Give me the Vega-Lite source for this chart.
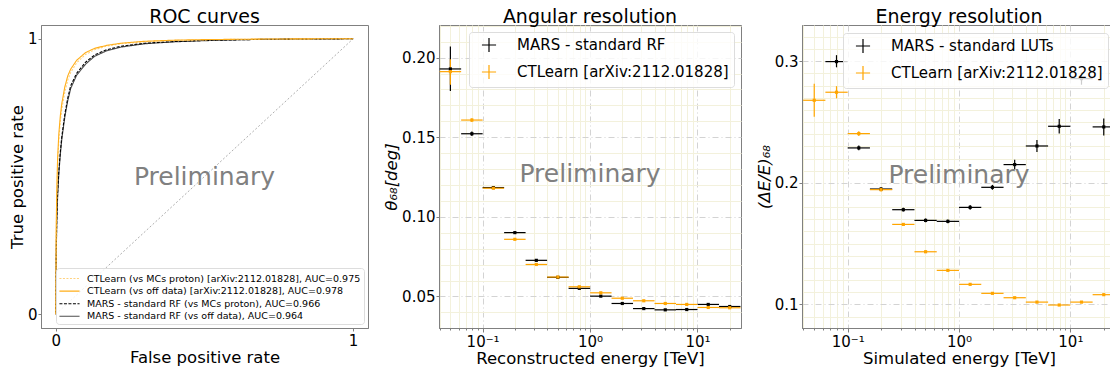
{
  "$schema": "https://vega.github.io/schema/vega-lite/v6.json",
  "padding": {"left": 8, "top": 7, "right": 0, "bottom": 0},
  "background": "white",
  "config": {
    "font": "DejaVu Sans",
    "view": {"stroke": "#808080", "strokeWidth": 1},
    "axis": {"domainColor": "#808080", "tickColor": "#808080", "labelFontSize": 15, "titleFontSize": 16.5, "titleFontWeight": "normal", "labelColor": "#000000", "titleColor": "#000000", "tickSize": 3, "labelPadding": 2, "titlePadding": 1, "grid": false, "labelFont": "DejaVu Sans", "titleFont": "DejaVu Sans"},
    "axisY": {"labelPadding": 1},
    "title": {"fontSize": 19, "fontWeight": "normal", "font": "DejaVu Sans", "color": "#000000", "offset": -1.5},
    "legend": {"labelFont": "DejaVu Sans", "labelColor": "#000000"}
  },
  "bounds": "flush",
  "spacing": 71,
  "resolve": {"scale": {"color": "independent", "strokeDash": "independent", "x": "independent", "y": "independent"}, "legend": {"color": "independent", "strokeDash": "independent"}},
  "hconcat": [
    {
      "width": 327,
      "height": 303,
      "title": "ROC curves",
      "layer": [
        {
          "data": {"values": [{"fpr": 0, "tpr": 0}, {"fpr": 1, "tpr": 1}]},
          "mark": {"type": "line", "color": "#999999", "strokeWidth": 0.8, "strokeDash": [2, 2]},
          "encoding": {
            "x": {"field": "fpr", "type": "quantitative", "scale": {"domain": [-0.05, 1.05], "nice": false, "zero": false}, "axis": {"values": [0, 1], "format": "d", "title": "False positive rate"}},
            "y": {"field": "tpr", "type": "quantitative", "scale": {"domain": [-0.05, 1.05], "nice": false, "zero": false}, "axis": {"values": [0, 1], "format": "d", "title": "True positive rate", "titlePadding": 2}}
          }
        },
        {
          "data": {"values": [
            {"c": "MARS - standard RF (vs off data), AUC=0.964", "fpr": 0, "tpr": 0},
            {"c": "MARS - standard RF (vs off data), AUC=0.964", "fpr": 0.001, "tpr": 0.2},
            {"c": "MARS - standard RF (vs off data), AUC=0.964", "fpr": 0.003, "tpr": 0.33},
            {"c": "MARS - standard RF (vs off data), AUC=0.964", "fpr": 0.006, "tpr": 0.43},
            {"c": "MARS - standard RF (vs off data), AUC=0.964", "fpr": 0.01, "tpr": 0.51},
            {"c": "MARS - standard RF (vs off data), AUC=0.964", "fpr": 0.015, "tpr": 0.58},
            {"c": "MARS - standard RF (vs off data), AUC=0.964", "fpr": 0.02, "tpr": 0.635},
            {"c": "MARS - standard RF (vs off data), AUC=0.964", "fpr": 0.03, "tpr": 0.715},
            {"c": "MARS - standard RF (vs off data), AUC=0.964", "fpr": 0.04, "tpr": 0.775},
            {"c": "MARS - standard RF (vs off data), AUC=0.964", "fpr": 0.05, "tpr": 0.82},
            {"c": "MARS - standard RF (vs off data), AUC=0.964", "fpr": 0.07, "tpr": 0.868},
            {"c": "MARS - standard RF (vs off data), AUC=0.964", "fpr": 0.1, "tpr": 0.908},
            {"c": "MARS - standard RF (vs off data), AUC=0.964", "fpr": 0.13, "tpr": 0.936},
            {"c": "MARS - standard RF (vs off data), AUC=0.964", "fpr": 0.17, "tpr": 0.956},
            {"c": "MARS - standard RF (vs off data), AUC=0.964", "fpr": 0.22, "tpr": 0.97},
            {"c": "MARS - standard RF (vs off data), AUC=0.964", "fpr": 0.3, "tpr": 0.982},
            {"c": "MARS - standard RF (vs off data), AUC=0.964", "fpr": 0.4, "tpr": 0.989},
            {"c": "MARS - standard RF (vs off data), AUC=0.964", "fpr": 0.5, "tpr": 0.993},
            {"c": "MARS - standard RF (vs off data), AUC=0.964", "fpr": 0.6, "tpr": 0.996},
            {"c": "MARS - standard RF (vs off data), AUC=0.964", "fpr": 0.7, "tpr": 0.998},
            {"c": "MARS - standard RF (vs off data), AUC=0.964", "fpr": 0.8, "tpr": 0.999},
            {"c": "MARS - standard RF (vs off data), AUC=0.964", "fpr": 0.9, "tpr": 0.9995},
            {"c": "MARS - standard RF (vs off data), AUC=0.964", "fpr": 1, "tpr": 1},
            {"c": "MARS - standard RF (vs MCs proton), AUC=0.966", "fpr": 0, "tpr": 0},
            {"c": "MARS - standard RF (vs MCs proton), AUC=0.966", "fpr": 0.001, "tpr": 0.21},
            {"c": "MARS - standard RF (vs MCs proton), AUC=0.966", "fpr": 0.003, "tpr": 0.34},
            {"c": "MARS - standard RF (vs MCs proton), AUC=0.966", "fpr": 0.006, "tpr": 0.44},
            {"c": "MARS - standard RF (vs MCs proton), AUC=0.966", "fpr": 0.01, "tpr": 0.52},
            {"c": "MARS - standard RF (vs MCs proton), AUC=0.966", "fpr": 0.015, "tpr": 0.59},
            {"c": "MARS - standard RF (vs MCs proton), AUC=0.966", "fpr": 0.02, "tpr": 0.645},
            {"c": "MARS - standard RF (vs MCs proton), AUC=0.966", "fpr": 0.03, "tpr": 0.725},
            {"c": "MARS - standard RF (vs MCs proton), AUC=0.966", "fpr": 0.04, "tpr": 0.785},
            {"c": "MARS - standard RF (vs MCs proton), AUC=0.966", "fpr": 0.05, "tpr": 0.83},
            {"c": "MARS - standard RF (vs MCs proton), AUC=0.966", "fpr": 0.07, "tpr": 0.875},
            {"c": "MARS - standard RF (vs MCs proton), AUC=0.966", "fpr": 0.1, "tpr": 0.915},
            {"c": "MARS - standard RF (vs MCs proton), AUC=0.966", "fpr": 0.13, "tpr": 0.941},
            {"c": "MARS - standard RF (vs MCs proton), AUC=0.966", "fpr": 0.17, "tpr": 0.96},
            {"c": "MARS - standard RF (vs MCs proton), AUC=0.966", "fpr": 0.22, "tpr": 0.973},
            {"c": "MARS - standard RF (vs MCs proton), AUC=0.966", "fpr": 0.3, "tpr": 0.984},
            {"c": "MARS - standard RF (vs MCs proton), AUC=0.966", "fpr": 0.4, "tpr": 0.99},
            {"c": "MARS - standard RF (vs MCs proton), AUC=0.966", "fpr": 0.5, "tpr": 0.994},
            {"c": "MARS - standard RF (vs MCs proton), AUC=0.966", "fpr": 0.6, "tpr": 0.996},
            {"c": "MARS - standard RF (vs MCs proton), AUC=0.966", "fpr": 0.7, "tpr": 0.998},
            {"c": "MARS - standard RF (vs MCs proton), AUC=0.966", "fpr": 0.8, "tpr": 0.999},
            {"c": "MARS - standard RF (vs MCs proton), AUC=0.966", "fpr": 0.9, "tpr": 0.9995},
            {"c": "MARS - standard RF (vs MCs proton), AUC=0.966", "fpr": 1, "tpr": 1},
            {"c": "CTLearn (vs MCs proton) [arXiv:2112.01828], AUC=0.975", "fpr": 0, "tpr": 0},
            {"c": "CTLearn (vs MCs proton) [arXiv:2112.01828], AUC=0.975", "fpr": 0.001, "tpr": 0.28},
            {"c": "CTLearn (vs MCs proton) [arXiv:2112.01828], AUC=0.975", "fpr": 0.003, "tpr": 0.42},
            {"c": "CTLearn (vs MCs proton) [arXiv:2112.01828], AUC=0.975", "fpr": 0.006, "tpr": 0.54},
            {"c": "CTLearn (vs MCs proton) [arXiv:2112.01828], AUC=0.975", "fpr": 0.01, "tpr": 0.63},
            {"c": "CTLearn (vs MCs proton) [arXiv:2112.01828], AUC=0.975", "fpr": 0.015, "tpr": 0.7},
            {"c": "CTLearn (vs MCs proton) [arXiv:2112.01828], AUC=0.975", "fpr": 0.02, "tpr": 0.745},
            {"c": "CTLearn (vs MCs proton) [arXiv:2112.01828], AUC=0.975", "fpr": 0.03, "tpr": 0.805},
            {"c": "CTLearn (vs MCs proton) [arXiv:2112.01828], AUC=0.975", "fpr": 0.04, "tpr": 0.85},
            {"c": "CTLearn (vs MCs proton) [arXiv:2112.01828], AUC=0.975", "fpr": 0.05, "tpr": 0.878},
            {"c": "CTLearn (vs MCs proton) [arXiv:2112.01828], AUC=0.975", "fpr": 0.07, "tpr": 0.913},
            {"c": "CTLearn (vs MCs proton) [arXiv:2112.01828], AUC=0.975", "fpr": 0.1, "tpr": 0.943},
            {"c": "CTLearn (vs MCs proton) [arXiv:2112.01828], AUC=0.975", "fpr": 0.13, "tpr": 0.96},
            {"c": "CTLearn (vs MCs proton) [arXiv:2112.01828], AUC=0.975", "fpr": 0.17, "tpr": 0.973},
            {"c": "CTLearn (vs MCs proton) [arXiv:2112.01828], AUC=0.975", "fpr": 0.22, "tpr": 0.982},
            {"c": "CTLearn (vs MCs proton) [arXiv:2112.01828], AUC=0.975", "fpr": 0.3, "tpr": 0.989},
            {"c": "CTLearn (vs MCs proton) [arXiv:2112.01828], AUC=0.975", "fpr": 0.4, "tpr": 0.994},
            {"c": "CTLearn (vs MCs proton) [arXiv:2112.01828], AUC=0.975", "fpr": 0.5, "tpr": 0.996},
            {"c": "CTLearn (vs MCs proton) [arXiv:2112.01828], AUC=0.975", "fpr": 0.6, "tpr": 0.998},
            {"c": "CTLearn (vs MCs proton) [arXiv:2112.01828], AUC=0.975", "fpr": 0.7, "tpr": 0.999},
            {"c": "CTLearn (vs MCs proton) [arXiv:2112.01828], AUC=0.975", "fpr": 0.8, "tpr": 0.9995},
            {"c": "CTLearn (vs MCs proton) [arXiv:2112.01828], AUC=0.975", "fpr": 0.9, "tpr": 1},
            {"c": "CTLearn (vs MCs proton) [arXiv:2112.01828], AUC=0.975", "fpr": 1, "tpr": 1},
            {"c": "CTLearn (vs off data) [arXiv:2112.01828], AUC=0.978", "fpr": 0, "tpr": 0},
            {"c": "CTLearn (vs off data) [arXiv:2112.01828], AUC=0.978", "fpr": 0.001, "tpr": 0.3},
            {"c": "CTLearn (vs off data) [arXiv:2112.01828], AUC=0.978", "fpr": 0.003, "tpr": 0.45},
            {"c": "CTLearn (vs off data) [arXiv:2112.01828], AUC=0.978", "fpr": 0.006, "tpr": 0.57},
            {"c": "CTLearn (vs off data) [arXiv:2112.01828], AUC=0.978", "fpr": 0.01, "tpr": 0.655},
            {"c": "CTLearn (vs off data) [arXiv:2112.01828], AUC=0.978", "fpr": 0.015, "tpr": 0.72},
            {"c": "CTLearn (vs off data) [arXiv:2112.01828], AUC=0.978", "fpr": 0.02, "tpr": 0.765},
            {"c": "CTLearn (vs off data) [arXiv:2112.01828], AUC=0.978", "fpr": 0.03, "tpr": 0.825},
            {"c": "CTLearn (vs off data) [arXiv:2112.01828], AUC=0.978", "fpr": 0.04, "tpr": 0.865},
            {"c": "CTLearn (vs off data) [arXiv:2112.01828], AUC=0.978", "fpr": 0.05, "tpr": 0.89},
            {"c": "CTLearn (vs off data) [arXiv:2112.01828], AUC=0.978", "fpr": 0.07, "tpr": 0.922},
            {"c": "CTLearn (vs off data) [arXiv:2112.01828], AUC=0.978", "fpr": 0.1, "tpr": 0.95},
            {"c": "CTLearn (vs off data) [arXiv:2112.01828], AUC=0.978", "fpr": 0.13, "tpr": 0.965},
            {"c": "CTLearn (vs off data) [arXiv:2112.01828], AUC=0.978", "fpr": 0.17, "tpr": 0.976},
            {"c": "CTLearn (vs off data) [arXiv:2112.01828], AUC=0.978", "fpr": 0.22, "tpr": 0.984},
            {"c": "CTLearn (vs off data) [arXiv:2112.01828], AUC=0.978", "fpr": 0.3, "tpr": 0.991},
            {"c": "CTLearn (vs off data) [arXiv:2112.01828], AUC=0.978", "fpr": 0.4, "tpr": 0.995},
            {"c": "CTLearn (vs off data) [arXiv:2112.01828], AUC=0.978", "fpr": 0.5, "tpr": 0.997},
            {"c": "CTLearn (vs off data) [arXiv:2112.01828], AUC=0.978", "fpr": 0.6, "tpr": 0.998},
            {"c": "CTLearn (vs off data) [arXiv:2112.01828], AUC=0.978", "fpr": 0.7, "tpr": 0.999},
            {"c": "CTLearn (vs off data) [arXiv:2112.01828], AUC=0.978", "fpr": 0.8, "tpr": 0.9995},
            {"c": "CTLearn (vs off data) [arXiv:2112.01828], AUC=0.978", "fpr": 0.9, "tpr": 1},
            {"c": "CTLearn (vs off data) [arXiv:2112.01828], AUC=0.978", "fpr": 1, "tpr": 1}
          ]},
          "mark": {"type": "line", "strokeWidth": 1.1},
          "encoding": {
            "x": {"field": "fpr", "type": "quantitative", "scale": {"domain": [-0.05, 1.05], "nice": false, "zero": false}},
            "y": {"field": "tpr", "type": "quantitative", "scale": {"domain": [-0.05, 1.05], "nice": false, "zero": false}},
            "color": {"field": "c", "type": "nominal",
              "scale": {"domain": ["CTLearn (vs MCs proton) [arXiv:2112.01828], AUC=0.975", "CTLearn (vs off data) [arXiv:2112.01828], AUC=0.978", "MARS - standard RF (vs MCs proton), AUC=0.966", "MARS - standard RF (vs off data), AUC=0.964"], "range": ["#ffd27f", "#ffae1a", "#000000", "#4d4d4d"]},
              "legend": {"orient": "bottom-right", "offset": 4, "title": null, "labelFontSize": 9.5, "symbolType": "M-1.5,0H1.5", "symbolSize": 180, "symbolStrokeWidth": 1.1, "fillColor": "rgba(255,255,255,0.8)", "strokeColor": "#dddddd", "cornerRadius": 3, "padding": 3, "rowPadding": 0.6, "symbolOffset": 3, "labelOffset": 10, "labelLimit": 400}},
            "strokeDash": {"field": "c", "type": "nominal",
              "scale": {"domain": ["CTLearn (vs MCs proton) [arXiv:2112.01828], AUC=0.975", "CTLearn (vs off data) [arXiv:2112.01828], AUC=0.978", "MARS - standard RF (vs MCs proton), AUC=0.966", "MARS - standard RF (vs off data), AUC=0.964"], "range": [[2, 1.5], [1, 0], [3, 1.5], [1, 0]]},
              "legend": {"orient": "bottom-right", "offset": 4, "title": null, "labelFontSize": 9.5, "symbolType": "M-1.5,0H1.5", "symbolSize": 180, "symbolStrokeWidth": 1.1, "fillColor": "rgba(255,255,255,0.8)", "strokeColor": "#dddddd", "cornerRadius": 3, "padding": 3, "rowPadding": 0.6, "symbolOffset": 3, "labelOffset": 10, "labelLimit": 400}}
          }
        },
        {
          "data": {"values": [{}]},
          "mark": {"type": "text", "fontSize": 25, "color": "#808080", "align": "center", "baseline": "middle"},
          "encoding": {
            "x": {"datum": 0.5, "type": "quantitative", "scale": {"domain": [-0.05, 1.05], "nice": false, "zero": false}},
            "y": {"datum": 0.5, "type": "quantitative", "scale": {"domain": [-0.05, 1.05], "nice": false, "zero": false}},
            "text": {"value": "Preliminary"}
          }
        }
      ]
    },
    {
      "bounds": "flush",
      "spacing": 61,
      "resolve": {"scale": {"color": "independent", "x": "independent", "y": "independent"}, "legend": {"color": "independent"}},
      "hconcat": [
        {
          "width": 302,
          "height": 303,
          "title": "Angular resolution",
          "resolve": {"axis": {"y": "independent"}},
          "data": {"values": [
            {"m": "MARS - standard RF", "E": 0.0501, "El": 0.0398, "Eh": 0.0631, "r": 0.1929, "rl": 0.179, "rh": 0.207},
            {"m": "MARS - standard RF", "E": 0.0794, "El": 0.0631, "Eh": 0.1, "r": 0.1522, "rl": 0.1508, "rh": 0.1536},
            {"m": "MARS - standard RF", "E": 0.1259, "El": 0.1, "Eh": 0.1585, "r": 0.1184, "rl": 0.1176, "rh": 0.1192},
            {"m": "MARS - standard RF", "E": 0.1995, "El": 0.1585, "Eh": 0.2512, "r": 0.0901, "rl": 0.0895, "rh": 0.0907},
            {"m": "MARS - standard RF", "E": 0.3162, "El": 0.2512, "Eh": 0.3981, "r": 0.0727, "rl": 0.0722, "rh": 0.0732},
            {"m": "MARS - standard RF", "E": 0.5012, "El": 0.3981, "Eh": 0.631, "r": 0.062, "rl": 0.0616, "rh": 0.0624},
            {"m": "MARS - standard RF", "E": 0.7943, "El": 0.631, "Eh": 1.0, "r": 0.0551, "rl": 0.0548, "rh": 0.0554},
            {"m": "MARS - standard RF", "E": 1.2589, "El": 1.0, "Eh": 1.585, "r": 0.0502, "rl": 0.0499, "rh": 0.0505},
            {"m": "MARS - standard RF", "E": 1.9953, "El": 1.585, "Eh": 2.512, "r": 0.0456, "rl": 0.0453, "rh": 0.0459},
            {"m": "MARS - standard RF", "E": 3.1623, "El": 2.512, "Eh": 3.981, "r": 0.0424, "rl": 0.0421, "rh": 0.0427},
            {"m": "MARS - standard RF", "E": 5.0119, "El": 3.981, "Eh": 6.31, "r": 0.0416, "rl": 0.0413, "rh": 0.0419},
            {"m": "MARS - standard RF", "E": 7.943, "El": 6.31, "Eh": 10, "r": 0.0418, "rl": 0.0415, "rh": 0.0421},
            {"m": "MARS - standard RF", "E": 12.589, "El": 10, "Eh": 15.85, "r": 0.045, "rl": 0.0446, "rh": 0.0454},
            {"m": "MARS - standard RF", "E": 19.953, "El": 15.85, "Eh": 25.12, "r": 0.0437, "rl": 0.0433, "rh": 0.0441},
            {"m": "CTLearn [arXiv:2112.01828]", "E": 0.0501, "El": 0.0398, "Eh": 0.0631, "r": 0.1912, "rl": 0.183, "rh": 0.199},
            {"m": "CTLearn [arXiv:2112.01828]", "E": 0.0794, "El": 0.0631, "Eh": 0.1, "r": 0.1608, "rl": 0.1596, "rh": 0.162},
            {"m": "CTLearn [arXiv:2112.01828]", "E": 0.1259, "El": 0.1, "Eh": 0.1585, "r": 0.118, "rl": 0.1174, "rh": 0.1186},
            {"m": "CTLearn [arXiv:2112.01828]", "E": 0.1995, "El": 0.1585, "Eh": 0.2512, "r": 0.0859, "rl": 0.0854, "rh": 0.0864},
            {"m": "CTLearn [arXiv:2112.01828]", "E": 0.3162, "El": 0.2512, "Eh": 0.3981, "r": 0.0701, "rl": 0.0697, "rh": 0.0705},
            {"m": "CTLearn [arXiv:2112.01828]", "E": 0.5012, "El": 0.3981, "Eh": 0.631, "r": 0.0622, "rl": 0.0619, "rh": 0.0625},
            {"m": "CTLearn [arXiv:2112.01828]", "E": 0.7943, "El": 0.631, "Eh": 1.0, "r": 0.0561, "rl": 0.0558, "rh": 0.0564},
            {"m": "CTLearn [arXiv:2112.01828]", "E": 1.2589, "El": 1.0, "Eh": 1.585, "r": 0.0523, "rl": 0.052, "rh": 0.0526},
            {"m": "CTLearn [arXiv:2112.01828]", "E": 1.9953, "El": 1.585, "Eh": 2.512, "r": 0.0489, "rl": 0.0487, "rh": 0.0491},
            {"m": "CTLearn [arXiv:2112.01828]", "E": 3.1623, "El": 2.512, "Eh": 3.981, "r": 0.0473, "rl": 0.0471, "rh": 0.0475},
            {"m": "CTLearn [arXiv:2112.01828]", "E": 5.0119, "El": 3.981, "Eh": 6.31, "r": 0.0456, "rl": 0.0454, "rh": 0.0458},
            {"m": "CTLearn [arXiv:2112.01828]", "E": 7.943, "El": 6.31, "Eh": 10, "r": 0.045, "rl": 0.0448, "rh": 0.0452},
            {"m": "CTLearn [arXiv:2112.01828]", "E": 12.589, "El": 10, "Eh": 15.85, "r": 0.0431, "rl": 0.0429, "rh": 0.0433},
            {"m": "CTLearn [arXiv:2112.01828]", "E": 19.953, "El": 15.85, "Eh": 25.12, "r": 0.0429, "rl": 0.0427, "rh": 0.0431}
          ]},
          "encoding": {
            "color": {"field": "m", "type": "nominal",
              "scale": {"domain": ["MARS - standard RF", "CTLearn [arXiv:2112.01828]"], "range": ["#000000", "#ffa500"]},
              "legend": {"orient": "top-right", "offset": 7, "title": null, "labelFontSize": 15, "symbolType": "M-1,0H1M0,-1V1", "symbolSize": 200, "symbolStrokeWidth": 1.2, "fillColor": "rgba(255,255,255,0.8)", "strokeColor": "#dddddd", "cornerRadius": 3, "padding": 5, "rowPadding": 7, "labelOffset": 20, "symbolOffset": 7, "labelLimit": 400}}
          },
          "layer": [
            {
              "mark": {"type": "rule", "strokeWidth": 1.2},
              "encoding": {
                "x": {"field": "El", "type": "quantitative", "scale": {"type": "log", "domain": [0.03926, 25.41], "nice": false},
                  "axis": {"title": "Reconstructed energy [TeV]", "values": [0.04, 0.05, 0.06, 0.07, 0.08, 0.09, 0.1, 0.2, 0.3, 0.4, 0.5, 0.6, 0.7, 0.8, 0.9, 1, 2, 3, 4, 5, 6, 7, 8, 9, 10, 20],
                    "labelExpr": "datum.value == 0.1 ? '10⁻¹' : datum.value == 1 ? '10⁰' : datum.value == 10 ? '10¹' : ''",
                    "labelOverlap": false, "labelFlush": false, "grid": true,
                    "gridColor": {"condition": {"test": "datum.value == 0.1 || datum.value == 1 || datum.value == 10", "value": "#d3d3d3"}, "value": "#f3f1dc"},
                    "gridDash": {"condition": {"test": "datum.value == 0.1 || datum.value == 1 || datum.value == 10", "value": [6, 3, 1, 3]}, "value": []},
                    "tickSize": {"condition": {"test": "datum.value == 0.1 || datum.value == 1 || datum.value == 10", "value": 4}, "value": 2}}},
                "x2": {"field": "Eh"},
                "y": {"field": "r", "type": "quantitative", "scale": {"domain": [0.0302, 0.2205], "nice": false, "zero": false},
                  "axis": {"orient": "right", "title": null, "values": [0.04, 0.06, 0.07, 0.08, 0.09, 0.11, 0.12, 0.13, 0.14, 0.16, 0.17, 0.18, 0.19, 0.21, 0.22],
                    "labels": false, "ticks": false, "domain": false, "grid": true, "gridColor": "#f3f1dc", "zindex": 0}}
              }
            },
            {
              "mark": {"type": "rule", "strokeWidth": 1.2},
              "encoding": {
                "x": {"field": "E", "type": "quantitative", "scale": {"type": "log", "domain": [0.03926, 25.41], "nice": false}},
                "y": {"field": "rl", "type": "quantitative", "scale": {"domain": [0.0302, 0.2205], "nice": false, "zero": false}, "axis": null},
                "y2": {"field": "rh"}
              }
            },
            {
              "mark": {"type": "point", "filled": true, "size": 10, "shape": "square", "opacity": 1},
              "encoding": {
                "x": {"field": "E", "type": "quantitative", "scale": {"type": "log", "domain": [0.03926, 25.41], "nice": false}},
                "y": {"field": "r", "type": "quantitative", "scale": {"domain": [0.0302, 0.2205], "nice": false, "zero": false},
                  "axis": {"orient": "left", "title": "θ₆₈[deg]", "titleFontStyle": "italic", "titlePadding": 2, "values": [0.05, 0.1, 0.15, 0.2], "format": ".2f",
                    "grid": true, "gridColor": "#d3d3d3", "gridDash": [6, 3, 1, 3], "tickSize": 3}}
              }
            },
            {
              "data": {"values": [{}]},
              "mark": {"type": "text", "fontSize": 25, "align": "center", "baseline": "middle"},
              "encoding": {
                "x": {"datum": 1, "type": "quantitative", "scale": {"type": "log", "domain": [0.03926, 25.41], "nice": false}},
                "y": {"datum": 0.1269, "type": "quantitative", "scale": {"domain": [0.0302, 0.2205], "nice": false, "zero": false}, "axis": null},
                "text": {"value": "Preliminary"},
                "color": {"value": "#808080"}
              }
            }
          ]
        },
        {
          "width": 314,
          "height": 303,
          "title": "Energy resolution",
          "resolve": {"axis": {"y": "independent"}},
          "data": {"values": [
            {"m": "MARS - standard LUTs", "E": 0.0794, "El": 0.0631, "Eh": 0.1, "r": 0.2997, "rl": 0.295, "rh": 0.305},
            {"m": "MARS - standard LUTs", "E": 0.1259, "El": 0.1, "Eh": 0.1585, "r": 0.2287, "rl": 0.2267, "rh": 0.2307},
            {"m": "MARS - standard LUTs", "E": 0.1995, "El": 0.1585, "Eh": 0.2512, "r": 0.1949, "rl": 0.1934, "rh": 0.1964},
            {"m": "MARS - standard LUTs", "E": 0.3162, "El": 0.2512, "Eh": 0.3981, "r": 0.1779, "rl": 0.1764, "rh": 0.1794},
            {"m": "MARS - standard LUTs", "E": 0.5012, "El": 0.3981, "Eh": 0.631, "r": 0.1691, "rl": 0.1676, "rh": 0.1706},
            {"m": "MARS - standard LUTs", "E": 0.7943, "El": 0.631, "Eh": 1.0, "r": 0.1683, "rl": 0.1668, "rh": 0.1698},
            {"m": "MARS - standard LUTs", "E": 1.2589, "El": 1.0, "Eh": 1.585, "r": 0.1798, "rl": 0.1778, "rh": 0.1818},
            {"m": "MARS - standard LUTs", "E": 1.9953, "El": 1.585, "Eh": 2.512, "r": 0.1963, "rl": 0.1943, "rh": 0.1983},
            {"m": "MARS - standard LUTs", "E": 3.1623, "El": 2.512, "Eh": 3.981, "r": 0.215, "rl": 0.211, "rh": 0.219},
            {"m": "MARS - standard LUTs", "E": 5.0119, "El": 3.981, "Eh": 6.31, "r": 0.2303, "rl": 0.2253, "rh": 0.2353},
            {"m": "MARS - standard LUTs", "E": 7.943, "El": 6.31, "Eh": 10, "r": 0.2465, "rl": 0.2405, "rh": 0.2525},
            {"m": "MARS - standard LUTs", "E": 12.589, "El": 10, "Eh": 15.85, "r": 0.2857, "rl": 0.2807, "rh": 0.2907},
            {"m": "MARS - standard LUTs", "E": 19.953, "El": 15.85, "Eh": 25.12, "r": 0.246, "rl": 0.239, "rh": 0.253},
            {"m": "CTLearn [arXiv:2112.01828]", "E": 0.0501, "El": 0.0398, "Eh": 0.0631, "r": 0.2679, "rl": 0.2544, "rh": 0.2814},
            {"m": "CTLearn [arXiv:2112.01828]", "E": 0.0794, "El": 0.0631, "Eh": 0.1, "r": 0.2745, "rl": 0.2695, "rh": 0.2795},
            {"m": "CTLearn [arXiv:2112.01828]", "E": 0.1259, "El": 0.1, "Eh": 0.1585, "r": 0.2405, "rl": 0.2385, "rh": 0.2425},
            {"m": "CTLearn [arXiv:2112.01828]", "E": 0.1995, "El": 0.1585, "Eh": 0.2512, "r": 0.1944, "rl": 0.1929, "rh": 0.1959},
            {"m": "CTLearn [arXiv:2112.01828]", "E": 0.3162, "El": 0.2512, "Eh": 0.3981, "r": 0.1658, "rl": 0.1648, "rh": 0.1668},
            {"m": "CTLearn [arXiv:2112.01828]", "E": 0.5012, "El": 0.3981, "Eh": 0.631, "r": 0.1433, "rl": 0.1423, "rh": 0.1443},
            {"m": "CTLearn [arXiv:2112.01828]", "E": 0.7943, "El": 0.631, "Eh": 1.0, "r": 0.128, "rl": 0.1272, "rh": 0.1288},
            {"m": "CTLearn [arXiv:2112.01828]", "E": 1.2589, "El": 1.0, "Eh": 1.585, "r": 0.1165, "rl": 0.1158, "rh": 0.1172},
            {"m": "CTLearn [arXiv:2112.01828]", "E": 1.9953, "El": 1.585, "Eh": 2.512, "r": 0.1091, "rl": 0.1085, "rh": 0.1097},
            {"m": "CTLearn [arXiv:2112.01828]", "E": 3.1623, "El": 2.512, "Eh": 3.981, "r": 0.1055, "rl": 0.1049, "rh": 0.1061},
            {"m": "CTLearn [arXiv:2112.01828]", "E": 5.0119, "El": 3.981, "Eh": 6.31, "r": 0.1019, "rl": 0.1013, "rh": 0.1025},
            {"m": "CTLearn [arXiv:2112.01828]", "E": 7.943, "El": 6.31, "Eh": 10, "r": 0.0995, "rl": 0.0988, "rh": 0.1002},
            {"m": "CTLearn [arXiv:2112.01828]", "E": 12.589, "El": 10, "Eh": 15.85, "r": 0.1019, "rl": 0.1011, "rh": 0.1027},
            {"m": "CTLearn [arXiv:2112.01828]", "E": 19.953, "El": 15.85, "Eh": 25.12, "r": 0.108, "rl": 0.107, "rh": 0.109}
          ]},
          "encoding": {
            "color": {"field": "m", "type": "nominal",
              "scale": {"domain": ["MARS - standard LUTs", "CTLearn [arXiv:2112.01828]"], "range": ["#000000", "#ffa500"]},
              "legend": {"orient": "top-right", "offset": 8, "title": null, "labelFontSize": 15, "symbolType": "M-1,0H1M0,-1V1", "symbolSize": 200, "symbolStrokeWidth": 1.2, "fillColor": "rgba(255,255,255,0.8)", "strokeColor": "#dddddd", "cornerRadius": 3, "padding": 5, "rowPadding": 7, "labelOffset": 20, "symbolOffset": 7, "labelLimit": 400}}
          },
          "layer": [
            {
              "mark": {"type": "rule", "strokeWidth": 1.2},
              "encoding": {
                "x": {"field": "El", "type": "quantitative", "scale": {"type": "log", "domain": [0.0389, 25.7], "nice": false},
                  "axis": {"title": "Simulated energy [TeV]", "values": [0.04, 0.05, 0.06, 0.07, 0.08, 0.09, 0.1, 0.2, 0.3, 0.4, 0.5, 0.6, 0.7, 0.8, 0.9, 1, 2, 3, 4, 5, 6, 7, 8, 9, 10, 20],
                    "labelExpr": "datum.value == 0.1 ? '10⁻¹' : datum.value == 1 ? '10⁰' : datum.value == 10 ? '10¹' : ''",
                    "labelOverlap": false, "labelFlush": false, "grid": true,
                    "gridColor": {"condition": {"test": "datum.value == 0.1 || datum.value == 1 || datum.value == 10", "value": "#d3d3d3"}, "value": "#f3f1dc"},
                    "gridDash": {"condition": {"test": "datum.value == 0.1 || datum.value == 1 || datum.value == 10", "value": [6, 3, 1, 3]}, "value": []},
                    "tickSize": {"condition": {"test": "datum.value == 0.1 || datum.value == 1 || datum.value == 10", "value": 4}, "value": 2}}},
                "x2": {"field": "Eh"},
                "y": {"field": "r", "type": "quantitative", "scale": {"domain": [0.0806, 0.3298], "nice": false, "zero": false},
                  "axis": {"orient": "right", "title": null, "values": [0.09, 0.11, 0.12, 0.13, 0.14, 0.15, 0.16, 0.17, 0.18, 0.19, 0.21, 0.22, 0.23, 0.24, 0.25, 0.26, 0.27, 0.28, 0.29, 0.31, 0.32],
                    "labels": false, "ticks": false, "domain": false, "grid": true, "gridColor": "#f3f1dc", "zindex": 0}}
              }
            },
            {
              "mark": {"type": "rule", "strokeWidth": 1.2},
              "encoding": {
                "x": {"field": "E", "type": "quantitative", "scale": {"type": "log", "domain": [0.0389, 25.7], "nice": false}},
                "y": {"field": "rl", "type": "quantitative", "scale": {"domain": [0.0806, 0.3298], "nice": false, "zero": false}, "axis": null},
                "y2": {"field": "rh"}
              }
            },
            {
              "mark": {"type": "point", "filled": true, "size": 10, "shape": "square", "opacity": 1},
              "encoding": {
                "x": {"field": "E", "type": "quantitative", "scale": {"type": "log", "domain": [0.0389, 25.7], "nice": false}},
                "y": {"field": "r", "type": "quantitative", "scale": {"domain": [0.0806, 0.3298], "nice": false, "zero": false},
                  "axis": {"orient": "left", "title": "(ΔE/E)₆₈", "titleFontStyle": "italic", "titlePadding": 2, "values": [0.1, 0.2, 0.3], "format": ".1f",
                    "grid": true, "gridColor": "#d3d3d3", "gridDash": [6, 3, 1, 3], "tickSize": 3}}
              }
            },
            {
              "data": {"values": [{}]},
              "mark": {"type": "text", "fontSize": 25, "align": "center", "baseline": "middle"},
              "encoding": {
                "x": {"datum": 1, "type": "quantitative", "scale": {"type": "log", "domain": [0.0389, 25.7], "nice": false}},
                "y": {"datum": 0.2068, "type": "quantitative", "scale": {"domain": [0.0806, 0.3298], "nice": false, "zero": false}, "axis": null},
                "text": {"value": "Preliminary"},
                "color": {"value": "#808080"}
              }
            }
          ]
        }
      ]
    }
  ]
}
